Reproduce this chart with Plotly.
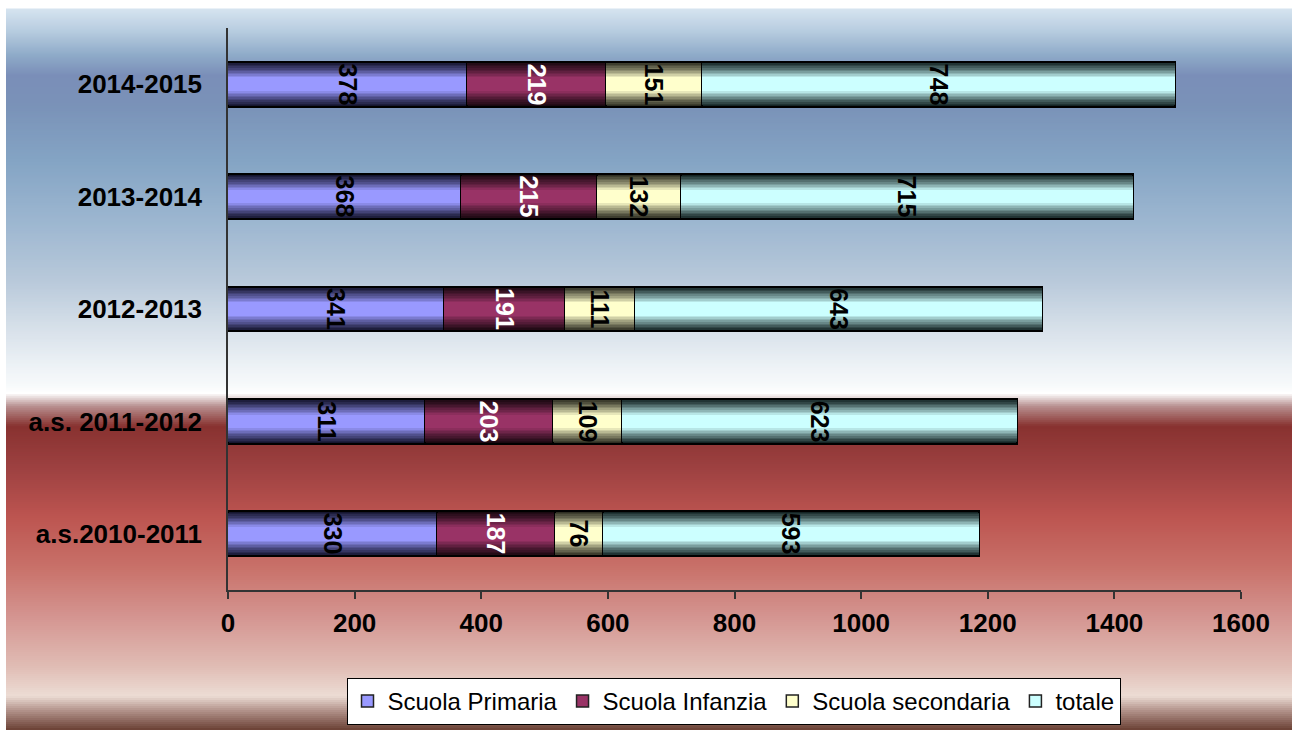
import plotly.graph_objects as go

# ---------------- data ----------------
categories = ['a.s.2010-2011', 'a.s. 2011-2012', '2012-2013', '2013-2014', '2014-2015']
series_names = ['Scuola Primaria', 'Scuola Infanzia', 'Scuola secondaria', 'totale']
primaria = [330, 311, 341, 368, 378]
infanzia = [187, 203, 191, 215, 219]
secondaria = [76, 109, 111, 132, 151]
totale = [593, 623, 643, 715, 748]
x_ticks = [0, 200, 400, 600, 800, 1000, 1200, 1400, 1600]

series_values = [primaria, infanzia, secondaria, totale]

# ---------------- style ----------------
W, H = 1296, 732
L, R, T, B = 228, 55, 27.5, 142
main_colors = ['#9999ff', '#993366', '#ffffcc', '#ccffff']
edge_colors = ['#15152e', '#1a0810', '#2e2e22', '#142424']
text_colors = ['black', 'white', 'black', 'black']
FONT = 'Liberation Sans, Arial, sans-serif'
BAR_W = 0.4


def hex2rgb(h):
    h = h.lstrip('#')
    return tuple(int(h[i:i + 2], 16) for i in (0, 2, 4))


def mix(c1, c2, t):
    a, b = hex2rgb(c1), hex2rgb(c2)
    return 'rgb(%d,%d,%d)' % tuple(round(a[i] + (b[i] - a[i]) * t) for i in range(3))


fig = go.Figure()

# cumulative bases (stacking)
bases = []
acc = [0] * len(categories)
for vals in series_values:
    bases.append(list(acc))
    acc = [a + v for a, v in zip(acc, vals)]

N = 10
inner_w = 0.12
for s, (name, vals) in enumerate(zip(series_names, series_values)):
    for k in range(N + 1):
        t = (k / N) ** 1.15
        w = BAR_W - k * (BAR_W - inner_w) / N
        fig.add_trace(go.Bar(
            y=categories, x=vals, base=bases[s], orientation='h',
            width=w,
            marker=dict(color=mix(edge_colors[s], main_colors[s], t),
                        line=dict(color='black', width=2 if k == 0 else 0)),
            showlegend=False, hoverinfo='skip'))

# text labels on top
for s, (name, vals) in enumerate(zip(series_names, series_values)):
    fig.add_trace(go.Bar(
        y=categories, x=vals, base=bases[s], orientation='h', width=BAR_W,
        marker=dict(color='rgba(0,0,0,0)', line=dict(width=0)),
        text=[str(v) for v in vals], textposition='inside',
        insidetextanchor='middle', textangle=90, constraintext='none',
        textfont=dict(family=FONT, size=25, color=text_colors[s], weight='bold'),
        showlegend=False, hoverinfo='skip'))

# legend entries
for s, name in enumerate(series_names):
    fig.add_trace(go.Bar(
        y=[None], x=[None], orientation='h', name=name,
        marker=dict(color=main_colors[s], line=dict(color='#222', width=1.5)),
        showlegend=True))

# background gradient (vertical)
stops = [
    (8, '#d6e4f0'), (30, '#b8cde0'), (55, '#8eaac8'), (75, '#7a8eb8'),
    (105, '#7a92b8'), (160, '#84a4c4'), (220, '#9cb6d0'), (280, '#b8c9da'),
    (330, '#d8e1ea'), (366, '#edf2f6'), (386, '#f8fafb'), (393, '#ffffff'),
    (406, '#b89090'), (426, '#883230'), (466, '#9c4040'), (516, '#bc5450'),
    (566, '#c87068'), (616, '#d49490'), (666, '#e0bcb4'), (696, '#ecdcd4'),
    (711, '#b09088'), (730, '#6a4034'),
]
pw, ph = W - L - R, H - T - B


def px2x(px):
    return (px - L) / pw


def py2y(py):
    return (H - B - py) / ph


def color_at(y):
    for (y0, c0), (y1, c1) in zip(stops[:-1], stops[1:]):
        if y0 <= y <= y1:
            return mix(c0, c1, (y - y0) / (y1 - y0))
    return stops[-1][1]


shapes = []
y = 8
while y < 730:
    y2 = min(y + 2, 730)
    shapes.append(dict(type='rect', xref='paper', yref='paper', layer='below',
                       x0=px2x(6), x1=px2x(1292), y0=py2y(min(y2 + 0.8, 730)), y1=py2y(y),
                       fillcolor=color_at(y + 1), line=dict(width=0)))
    y = y2

fig.update_layout(
    width=W, height=H,
    margin=dict(l=L, r=R, t=T, b=B, pad=0),
    paper_bgcolor='white', plot_bgcolor='rgba(0,0,0,0)',
    barmode='overlay', bargap=0,
    shapes=shapes,
    font=dict(family=FONT, color='black'),
    xaxis=dict(range=[0, 1600], tickvals=x_ticks, showgrid=False, zeroline=False,
               showline=True, linecolor='#333', linewidth=1.5,
               ticks='outside', ticklen=7, tickcolor='#333', tickwidth=1.5,
               ticklabelstandoff=2,
               tickfont=dict(family=FONT, size=26, color='black', weight='bold'),
               fixedrange=True),
    yaxis=dict(type='category', categoryorder='array', categoryarray=categories,
               range=[-0.5, 4.5], showgrid=False, zeroline=False,
               showline=True, linecolor='#333', linewidth=1.5, ticks='',
               ticklabelstandoff=19,
               tickfont=dict(family=FONT, size=26, color='black', weight='bold'),
               fixedrange=True),
    legend=dict(orientation='h', xref='container', yref='container',
                x=733.5 / W, xanchor='center', y=1 - 678 / H, yanchor='top',
                bgcolor='white', bordercolor='black', borderwidth=1,
                font=dict(family=FONT, size=24, color='black'),
                traceorder='normal', itemwidth=30),
)

fig.write_html('out.html')
